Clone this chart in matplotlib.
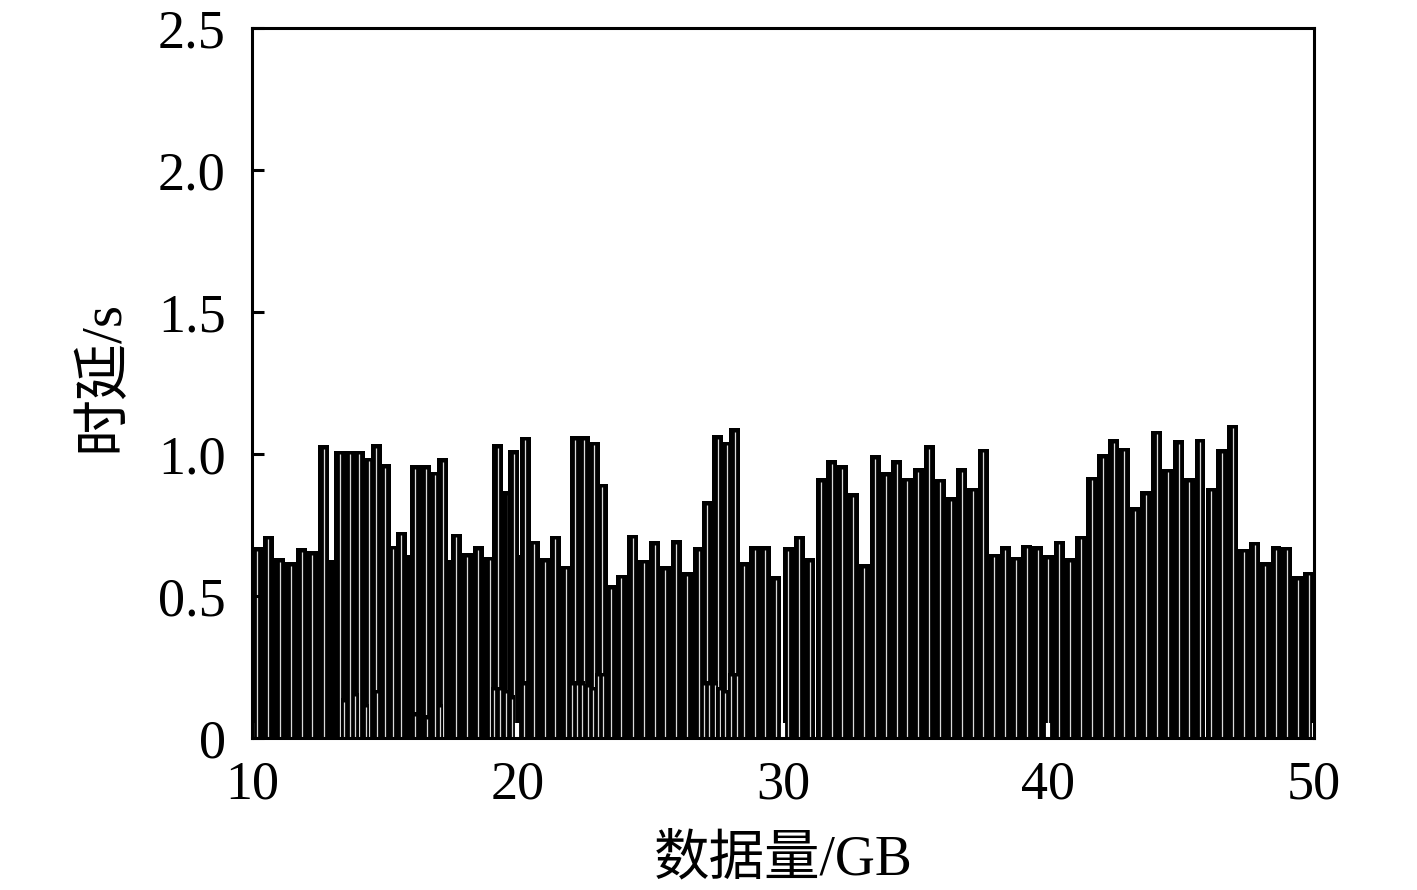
import numpy as np
import matplotlib
matplotlib.use('Agg')
import matplotlib.pyplot as plt

plt.rcParams['font.family'] = ['Liberation Serif', 'Noto Sans CJK SC']

# 数据量 (GB) 与时延 (s)，按图中可见柱顶读取
data_gb = [10.20, 10.62, 11.04, 11.46, 11.87, 12.27, 12.71, 13.11, 13.30, 13.68,
           14.05, 14.40, 14.68, 15.03, 15.31, 15.62, 16.01, 16.16, 16.54, 16.88,
           17.18, 17.52, 17.69, 18.11, 18.52, 18.95, 19.26, 19.63, 19.86, 20.21,
           20.30, 20.64, 21.02, 21.43, 21.84, 22.18, 22.52, 22.90, 23.19, 23.54,
           23.91, 24.34, 24.75, 25.17, 25.57, 25.98, 26.39, 26.82, 27.15, 27.55,
           27.91, 28.18, 28.55, 28.93, 29.33, 29.73,
           30.20, 30.61, 31.02, 31.43, 31.84, 32.24, 32.65, 33.06, 33.47, 33.88,
           34.29, 34.69, 35.10, 35.51, 35.92, 36.33, 36.73, 37.14, 37.55, 37.96,
           38.37, 38.78, 39.18, 39.59, 40.00, 40.41, 40.82, 41.22, 41.63, 42.04,
           42.45, 42.86, 43.27, 43.67, 44.08, 44.49, 44.90, 45.31, 45.71, 46.12,
           46.53, 46.94, 47.35, 47.76, 48.16, 48.57, 48.98, 49.39, 49.80]
latency = [0.671, 0.712, 0.633, 0.619, 0.668, 0.657, 1.030, 0.628, 1.011, 1.011,
           1.011, 0.987, 1.034, 0.964, 0.677, 0.727, 0.644, 0.960, 0.960, 0.937,
           0.985, 0.625, 0.718, 0.650, 0.675, 0.639, 1.034, 0.868, 1.013, 0.644,
           1.061, 0.695, 0.633, 0.712, 0.607, 1.063, 1.063, 1.042, 0.896, 0.537,
           0.574, 0.715, 0.627, 0.692, 0.605, 0.696, 0.584, 0.671, 0.833, 1.066,
           1.042, 1.090, 0.619, 0.675, 0.675, 0.570,
           0.671, 0.712, 0.633, 0.915, 0.978, 0.960, 0.862, 0.611, 0.995, 0.935,
           0.978, 0.917, 0.950, 1.030, 0.913, 0.847, 0.950, 0.882, 1.019, 0.648,
           0.675, 0.639, 0.680, 0.675, 0.644, 0.695, 0.633, 0.712, 0.919, 0.999,
           1.052, 1.022, 0.812, 0.868, 1.081, 0.948, 1.048, 0.915, 1.054, 0.882,
           1.016, 1.102, 0.666, 0.691, 0.619, 0.675, 0.674, 0.570, 0.586]

# 波动段中叠在最前面的低柱
low_gb = [13.47, 13.89, 14.30, 14.72,
          16.14, 16.59, 17.08,
          19.12, 19.34, 19.57, 19.79, 20.24,
          22.05, 22.24, 22.43, 22.65, 22.84, 23.03, 23.22,
          27.02, 27.21, 27.43, 27.62, 27.81, 28.04, 28.26]
low_latency = [0.14, 0.16, 0.12, 0.17,
               0.09, 0.08, 0.12,
               0.18, 0.18, 0.17, 0.15, 0.20,
               0.20, 0.20, 0.20, 0.19, 0.18, 0.23, 0.23,
               0.20, 0.20, 0.20, 0.18, 0.17, 0.23, 0.23]

x_ticks = [10, 20, 30, 40, 50]
y_ticks = [0, 0.5, 1.0, 1.5, 2.0, 2.5]
y_labels = ['0', '0.5', '1.0', '1.5', '2.0', '2.5']

fig = plt.figure(figsize=(14.17, 8.9), dpi=100)
ax = fig.add_axes([0.1778, 0.1708, 0.7495, 0.7977])

cap = 0.012


def draw_bars(xs, hs, w, z0):
    # 黑色柱体 + 中间一条细白线，逐个叠放
    for k, (x, h) in enumerate(zip(xs, hs)):
        z = z0 + k * 0.002
        ax.bar(x, h, width=w, color='black', linewidth=0, zorder=z)
        ax.vlines(x, 0.004, h - cap, colors='#d8d8d8', linewidth=0.9, zorder=z + 0.001)


draw_bars(data_gb, latency, 0.408, 1.0)
draw_bars(low_gb, low_latency, 0.25, 1.4)

ax.set_xlim(10, 50)
ax.set_ylim(0, 2.5)
ax.set_xticks(x_ticks)
ax.set_yticks(y_ticks)
ax.set_yticklabels(y_labels)
ax.set_axisbelow(False)

ax.tick_params(axis='y', direction='in', length=8.5, width=2.2, color='black',
               labelsize=39, pad=19)
ax.tick_params(axis='x', direction='in', length=11, width=3, color='white',
               labelsize=39, pad=16)
for s in ax.spines.values():
    s.set_linewidth(2.2)
    s.set_zorder(3)

ax.set_ylabel('时延/s', fontsize=41)
ax.yaxis.set_label_coords(-0.115, 0.51)
ax.set_xlabel('数据量/GB', fontsize=40)
ax.xaxis.set_label_coords(0.5, -0.136)

fig.savefig('out.png', dpi=100)
